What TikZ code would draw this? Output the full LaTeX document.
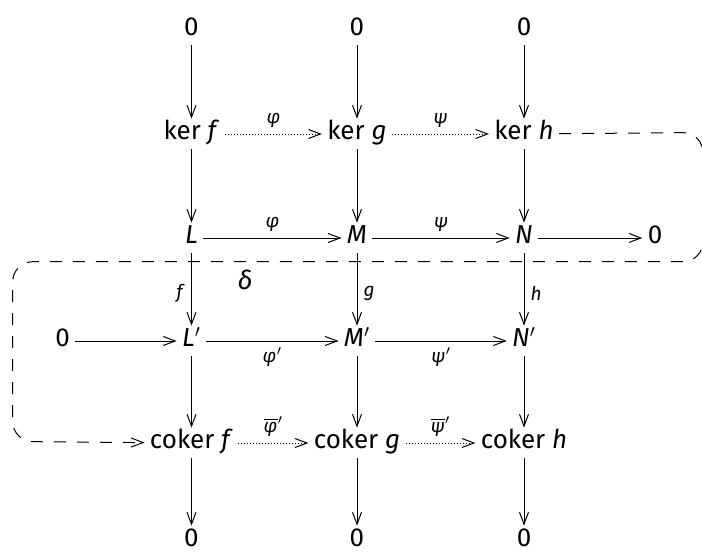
\documentclass[tikz,border=0pt]{standalone}
\usepackage{fontspec}
\setmainfont{Fira Sans}
\usetikzlibrary{arrows.meta}
\tikzstyle{obj}=[inner sep=2.5pt, text height=0.75em, text depth=0.25em, anchor=base]
\tikzstyle{map}=[line width=0.5pt, -{Straight Barb[length=6pt,width=4.5pt]}]
\tikzstyle{induced}=[map, dash pattern=on 0.5pt off 1pt]
\tikzstyle{connecting}=[map, dash pattern=on 6pt off 5.5pt, rounded corners=10pt]
\tikzstyle{lab}=[font=\fontsize{9.5}{11}\selectfont, inner sep=3pt]
\newcommand{\mi}[1]{\textit{#1}}
\newcommand{\pr}{\ensuremath{^\prime}}
\newcommand{\bari}[1]{$\overline{\hbox{\itshape #1}}$\pr}

\begin{document}
\begin{tikzpicture}[x=0.5pt, y=-0.5pt, font=\fontsize{13}{15}\selectfont]
	\useasboundingbox (0,0) rectangle (702,552);
	% top zeros
	\node[obj] (z1) at (191.5,35) {0};
	\node[obj] (z2) at (357,35) {0};
	\node[obj] (z3) at (524,35) {0};
	% kernels
	\node[obj] (kerf) at (191.5,139) {ker \mi{f}};
	\node[obj] (kerg) at (357,139) {ker \mi{g}};
	\node[obj] (kerh) at (524,139) {ker \mi{h}};
	% first row
	\node[obj] (L) at (191.5,243) {\mi{L}};
	\node[obj] (M) at (357,243) {\mi{M}};
	\node[obj] (N) at (524,243) {\mi{N}};
	\node[obj] (zr) at (655,243) {0};
	% second row
	\node[obj] (zl) at (62.7,346) {0};
	\node[obj] (Lp) at (191.5,346) {\mi{L}\pr};
	\node[obj] (Mp) at (357,346) {\mi{M}\pr};
	\node[obj] (Np) at (524,346) {\mi{N}\pr};
	% cokernels
	\node[obj] (cokf) at (191.5,448) {coker \mi{f}};
	\node[obj] (cokg) at (357,448) {coker \mi{g}};
	\node[obj] (cokh) at (524,448) {coker \mi{h}};
	% bottom zeros
	\node[obj] (b1) at (191.5,546) {0};
	\node[obj] (b2) at (357,546) {0};
	\node[obj] (b3) at (524,546) {0};

	\draw[map] (z1) -- (kerf);
	\draw[map] (z2) -- (kerg);
	\draw[map] (z3) -- (kerh);
	\draw[map] (kerf) -- (L);
	\draw[map] (kerg) -- (M);
	\draw[map] (kerh) -- (N);
	\draw[map] (L) -- (Lp) node[lab, left, pos=0.55] {\mi{f}};
	\draw[map] (M) -- (Mp) node[lab, right, pos=0.55] {\mi{g}};
	\draw[map] (N) -- (Np) node[lab, right, pos=0.55] {\mi{h}};
	\draw[map] (Lp) -- (cokf);
	\draw[map] (Mp) -- (cokg);
	\draw[map] (Np) -- (cokh);
	\draw[map] (cokf) -- (b1);
	\draw[map] (cokg) -- (b2);
	\draw[map] (cokh) -- (b3);

	\draw[induced] (kerf) -- (kerg) node[lab, midway, above] {\mi{φ}};
	\draw[induced] (kerg) -- (kerh) node[lab, midway, above] {\mi{ψ}};
	\draw[map] (L) -- (M) node[lab, midway, above] {\mi{φ}};
	\draw[map] (M) -- (N) node[lab, midway, above] {\mi{ψ}};
	\draw[map] (N) -- (zr);
	\draw[map] (zl) -- (Lp);
	\draw[map] (Lp) -- (Mp) node[lab, midway, below] {\mi{φ}\pr};
	\draw[map] (Mp) -- (Np) node[lab, midway, below] {\mi{ψ}\pr};
	\draw[induced] (cokf) -- (cokg) node[lab, midway, above] {\bari{φ}};
	\draw[induced] (cokg) -- (cokh) node[lab, midway, above] {\bari{ψ}};

	% the connecting map
	\coordinate (sA) at (703,132.5);
	\coordinate (sB) at (703,261.7);
	\coordinate (sC) at (12.7,261.7);
	\coordinate (sD) at (12.7,441.5);
	\draw[connecting] (kerh) -- (sA) -- (sB) -- (sC) -- (sD) -- (cokf);
	\node (delta) at (245,280) {\mi{δ}};
\end{tikzpicture}
\end{document}
